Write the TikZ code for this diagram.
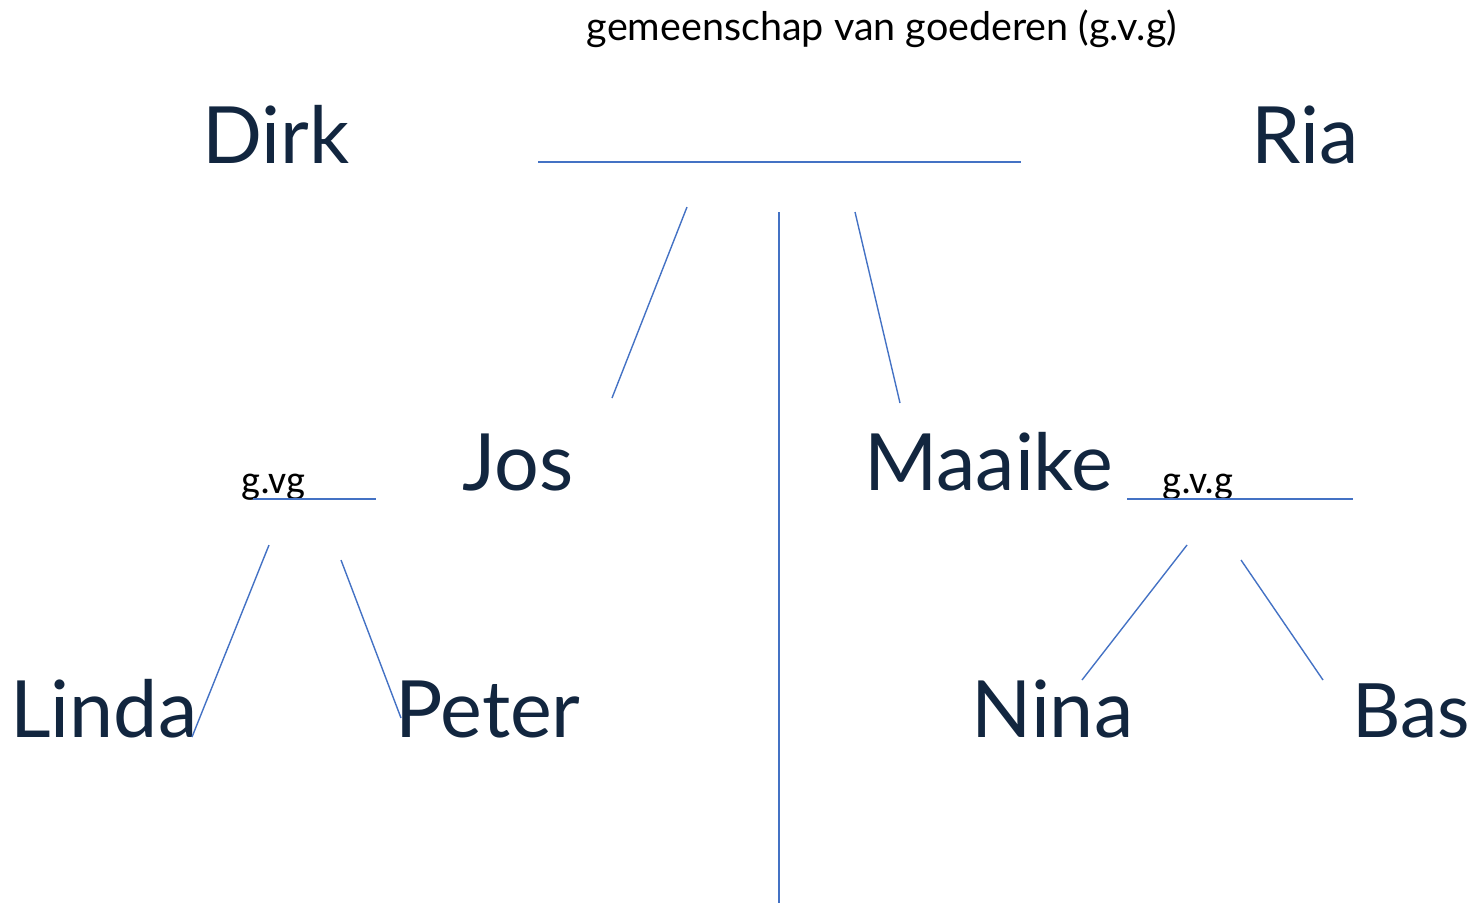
\documentclass[tikz,border=0pt]{standalone}
\usepackage{fontspec}
\setmainfont{Lato}
\newfontfamily\calfont{Carlito}
\definecolor{navy}{HTML}{12263F}
\definecolor{lineblue}{HTML}{4472C4}
\begin{document}
\begin{tikzpicture}[x=1pt,y=-1pt,
  personlbl/.style={anchor=base west,inner sep=0pt,text=navy,font=\fontsize{79}{84}\selectfont},
  headlbl/.style={anchor=base,inner sep=0pt,text=black,font=\fontsize{39.5}{44}\selectfont},
  smalllbl/.style={anchor=base west,inner sep=0pt,text=black,font=\calfont\fontsize{40}{44}\selectfont},
  conn/.style={draw=lineblue,line width=1.4pt}]
\useasboundingbox (0,0) rectangle (1474,903);
% texts
\node[headlbl] (titletext) at (882,40) {gemeenschap van goederen (g.v.g)};
\node[personlbl] (dirk) at (202,163) {Dirk};
\node[personlbl] (ria) at (1251,163) {Ria};
\node[personlbl] (jos) at (462,490) {Jos};
\node[personlbl] (maaike) at (864,490) {Maaike};
\node[personlbl] (linda) at (10,737) {Linda};
\node[personlbl] (peter) at (395,737) {Peter};
\node[personlbl] (nina) at (971,737) {Nina};
\node[personlbl,anchor=base east,font=\fontsize{75}{80}\selectfont] (bas) at (1470,737) {Bas};
\node[smalllbl] (gvgl) at (241,493) {g.vg};
\node[smalllbl] (gvgr) at (1162,493) {g.v.g};
% line endpoints
\coordinate (m1) at (538,162); \coordinate (m2) at (1021,162);
\coordinate (j1) at (687,207); \coordinate (j2) at (612,398);
\coordinate (v1) at (779,212); \coordinate (v2) at (779,903);
\coordinate (k1) at (855,212); \coordinate (k2) at (900,403);
\coordinate (lh1) at (253,499); \coordinate (lh2) at (376,499);
\coordinate (l1) at (269,545); \coordinate (l2) at (192,737);
\coordinate (p1) at (341,560); \coordinate (p2) at (401,718);
\coordinate (rh1) at (1127,499); \coordinate (rh2) at (1353,499);
\coordinate (n1) at (1187,545); \coordinate (n2) at (1082,680);
\coordinate (b1) at (1241,560); \coordinate (b2) at (1323,680);
% connectors
\draw[conn] (m1) -- (m2);
\draw[conn] (j1) -- (j2);
\draw[conn] (v1) -- (v2);
\draw[conn] (k1) -- (k2);
\draw[conn] (lh1) -- (lh2);
\draw[conn] (l1) -- (l2);
\draw[conn] (p1) -- (p2);
\draw[conn] (rh1) -- (rh2);
\draw[conn] (n1) -- (n2);
\draw[conn] (b1) -- (b2);
\end{tikzpicture}
\end{document}
